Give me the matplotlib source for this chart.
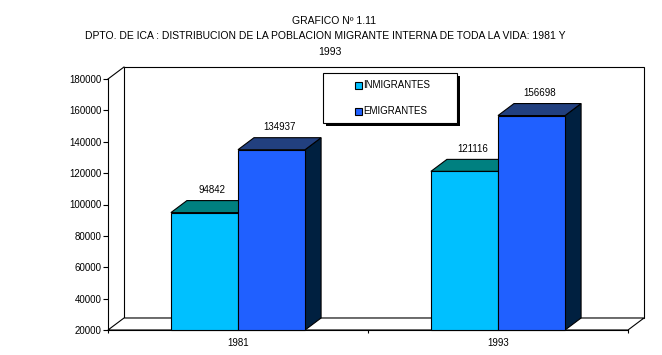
import matplotlib
matplotlib.use("Agg")
import matplotlib.pyplot as plt
from matplotlib.patches import Polygon, Rectangle
import numpy as np

plt.rcParams['font.family'] = ['Liberation Sans', 'DejaVu Sans']

years = ['1981', '1993']
inmigrantes = [94842, 121116]
emigrantes = [134937, 156698]
series_names = ['INMIGRANTES', 'EMIGRANTES']
yticks = [20000, 40000, 60000, 80000, 100000, 120000, 140000, 160000, 180000]

front_cols = ['#00C0FF', '#2060FF']
top_cols = ['#008080', '#22407F']
side_cols = ['#006080', '#002040']

W, H = 662, 355
fig = plt.figure(figsize=(W / 100, H / 100), dpi=100)
ax = fig.add_axes([108 / W, 25 / H, 520 / W, 251 / H])
ymin, ymax = yticks[0], yticks[-1]
ncat = len(years)
ax.set_xlim(0, ncat)
ax.set_ylim(ymin, ymax)

# depth of the fake 3d, 16 px right and 12 px up
dx = 16 / 520 * ncat
dy = 12 / 251 * (ymax - ymin)
lw = 0.8

# back wall, left wall and floor
ax.add_patch(Rectangle((dx, ymin + dy), ncat, ymax - ymin, facecolor='white',
                       edgecolor='black', lw=lw, clip_on=False, zorder=0))
ax.plot([0, dx], [ymax, ymax + dy], color='black', lw=lw, clip_on=False, zorder=1)
ax.add_patch(Polygon([(0, ymin), (ncat, ymin), (ncat + dx, ymin + dy), (dx, ymin + dy)],
                     closed=True, facecolor='white', edgecolor='black', lw=lw,
                     clip_on=False, zorder=1))

bw = 0.258
centers = np.arange(ncat) + 0.5
z = 2
for c in range(ncat):
    for i, vals in enumerate([inmigrantes, emigrantes]):
        x0 = centers[c] - bw + i * bw
        v = vals[c]
        ax.add_patch(Polygon([(x0 + bw, ymin), (x0 + bw + dx, ymin + dy),
                              (x0 + bw + dx, v + dy), (x0 + bw, v)],
                             closed=True, facecolor=side_cols[i], edgecolor='black',
                             lw=lw, clip_on=False, zorder=z))
        ax.add_patch(Polygon([(x0, v), (x0 + bw, v), (x0 + bw + dx, v + dy), (x0 + dx, v + dy)],
                             closed=True, facecolor=top_cols[i], edgecolor='black',
                             lw=lw, clip_on=False, zorder=z))
        ax.bar(x0, v - ymin, bottom=ymin, width=bw, align='edge', color=front_cols[i],
               edgecolor='black', lw=lw, zorder=z + 1, clip_on=False)
        ax.annotate(str(v), xy=(x0 + (bw + dx) / 2, v + dy), xytext=(0, 7.5),
                    textcoords='offset points', ha='center', va='center', fontsize=7)
        z += 2

for s in ['top', 'right']:
    ax.spines[s].set_visible(False)
for s in ['left', 'bottom']:
    ax.spines[s].set_linewidth(lw)
    ax.spines[s].set_zorder(1)
ax.set_yticks(yticks)
ax.set_yticklabels([str(t) for t in yticks])
ax.tick_params(axis='y', direction='out', length=3.6, width=lw, pad=1, labelsize=7)
ax.set_xticks(centers)
ax.set_xticklabels(years)
ax.set_xticks(np.arange(ncat + 1), minor=True)
ax.tick_params(axis='x', which='major', length=0, pad=6, labelsize=7)
ax.tick_params(axis='x', which='minor', direction='out', length=2.5, width=lw)
ax.patch.set_visible(False)

# legend box with hard shadow
bx, by, bwid, bht = 323, 73, 134, 50
fig.patches.append(Rectangle(((bx + 3) / W, (H - by - bht - 3) / H), bwid / W, bht / H,
                             transform=fig.transFigure, facecolor='black', edgecolor='none'))
fig.patches.append(Rectangle((bx / W, (H - by - bht) / H), bwid / W, bht / H,
                             transform=fig.transFigure, facecolor='white', edgecolor='black', lw=lw))
for i, name in enumerate(series_names):
    ly = 85 + i * 26
    fig.patches.append(Rectangle((355 / W, (H - ly - 3.5) / H), 7 / W, 7 / H,
                                 transform=fig.transFigure, facecolor=front_cols[i],
                                 edgecolor='black', lw=lw))
    fig.text(363 / W, (H - ly) / H, name, fontsize=7, va='center', ha='left')

fig.text(334 / W, 1 - 21 / H, 'GRAFICO Nº 1.11', fontsize=7.5, ha='center', va='center')
fig.text(325 / W, 1 - 36 / H,
         'DPTO. DE ICA : DISTRIBUCION DE LA POBLACION MIGRANTE INTERNA DE TODA LA VIDA: 1981 Y',
         fontsize=7.5, ha='center', va='center')
fig.text(330 / W, 1 - 52 / H, '1993', fontsize=7.5, ha='center', va='center')

fig.savefig('out.png', dpi=100)
